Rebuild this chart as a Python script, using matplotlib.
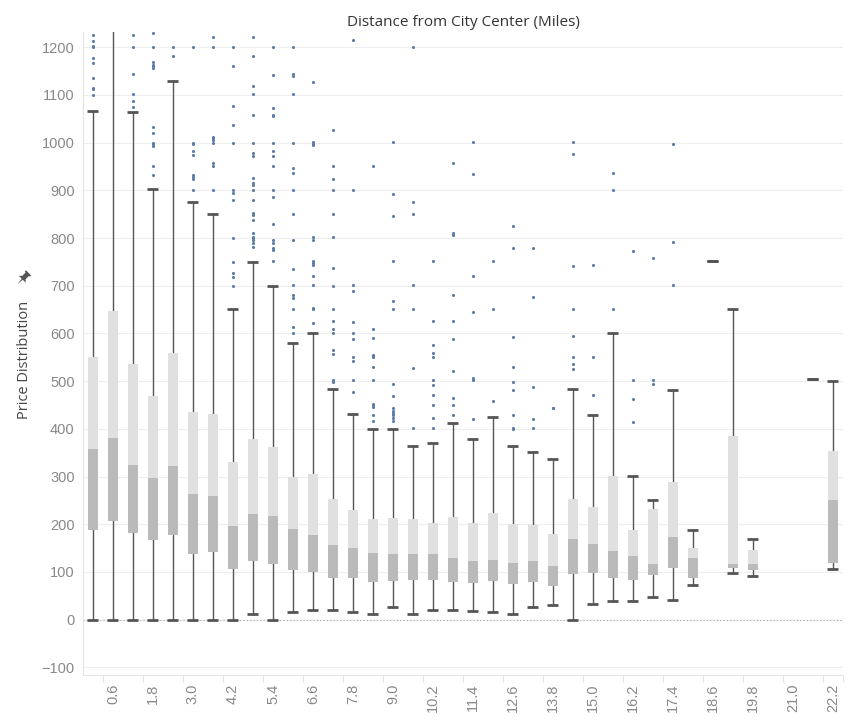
import matplotlib
matplotlib.use("Agg")
import matplotlib.pyplot as plt
from matplotlib.patches import Polygon
import matplotlib.transforms as mtransforms
import numpy as np

# Bins of distance from city center (miles), bin size 0.6
bins = [round(0.6 * i, 1) for i in range(38)]

# Box plot statistics per bin (None = no data in that bin)
lower = [0, 0, 0, 0, 0, 0, 0, 0, 12, 0, 16, 21, 21, 16, 12, 27, 12, 21, 21, 19,
         16, 12, 27, 31, 0, 33, 39, 39, 48, 42, 73, 751, 97, 91, None, None, 505, 107]
q1 = [189, 206, 181, 166, 177, 137, 141, 107, 122, 117, 105, 99, 88, 88, 80, 82, 84, 84, 80, 76,
      82, 74, 78, 70, 95, 97, 87, 84, 93, 109, 88, 751, 108, 105, None, None, 505, 118]
median = [358, 380, 324, 297, 322, 263, 259, 196, 221, 217, 190, 177, 156, 150, 139, 137, 137, 137, 129, 123,
          125, 119, 123, 112, 169, 158, 144, 133, 116, 173, 129, 751, 116, 116, None, None, 505, 251]
q3 = [550, 647, 537, 469, 560, 436, 432, 330, 378, 363, 300, 305, 252, 229, 210, 214, 210, 202, 216, 202,
      223, 200, 198, 179, 254, 237, 302, 189, 231, 288, 151, 751, 384, 145, None, None, 505, 353]
upper = [1067, 1400, 1065, 902, 1130, 876, 851, 651, 750, 700, 580, 600, 484, 432, 400, 400, 365, 371, 413, 379,
         425, 365, 352, 337, 484, 429, 601, 302, 251, 482, 188, 751, 651, 169, None, None, 505, 501]

outliers = [
    [1226, 1214, 1202, 1200, 1177, 1167, 1136, 1115, 1113, 1099],
    [],
    [1226, 1200, 1144, 1102, 1088, 1075],
    [1230, 1200, 1170, 1163, 1160, 1156, 1032, 1020, 1000, 997, 993, 951, 932],
    [1200, 1181],
    [1200, 1000, 998, 983, 974, 933, 927, 923, 900],
    [1221, 1200, 1012, 1009, 1005, 1000, 958, 951, 900],
    [1200, 1160, 1076, 1037, 1000, 900, 895, 880, 801, 750, 726, 719, 700],
    [1221, 1181, 1118, 1102, 1057, 1000, 979, 972, 926, 916, 911, 900, 880, 852, 849, 838,
     810, 803, 800, 796, 790, 781],
    [1200, 1142, 1073, 1057, 1055, 1000, 983, 972, 951, 900, 886, 830, 796, 789, 779, 775, 751],
    [1200, 1144, 1139, 1102, 1000, 946, 937, 900, 850, 796, 735, 701, 681, 674, 651, 613, 600],
    [1128, 1001, 998, 996, 803, 796, 752, 747, 744, 720, 701, 654, 651, 621],
    [1027, 951, 923, 900, 850, 802, 738, 699, 651, 626, 609, 600, 565, 556, 502, 499],
    [1215, 900, 701, 688, 623, 600, 588, 550, 542, 502, 477],
    [951, 609, 590, 555, 552, 550, 530, 502, 453, 449, 446, 430, 416],
    [1001, 892, 846, 751, 668, 651, 495, 469, 443, 438, 433, 428, 422, 417],
    [1200, 875, 850, 701, 651, 527, 401],
    [751, 626, 575, 558, 550, 502, 491, 470, 449, 422, 401],
    [957, 810, 806, 680, 626, 588, 521, 464, 451, 430],
    [1001, 935, 720, 644, 507, 502, 420],
    [751, 651, 458],
    [825, 779, 592, 530, 498, 481, 428, 401, 399],
    [779, 676, 487, 420, 401],
    [444, 443],
    [1001, 976, 741, 651, 594, 550, 535, 525],
    [743, 550, 470],
    [936, 900, 651],
    [772, 502, 462, 414],
    [758, 502, 495],
    [997, 791, 701],
    [], [], [], [], [], [], [], [],
]

tick_labels = [f"{b:.1f}" for b in bins[1::2]]

# colours
c_light = "#e0e0e0"
c_dark = "#bababa"
c_whisk = "#555555"
c_dot = "#5a7ca6"
c_text = "#888888"

fig = plt.figure(figsize=(8.66, 7.2), dpi=100)
ax = fig.add_axes([0.0958, 0.0625, 0.8776, 0.8931])

box_w = 0.3
cap_w = 0.33

for i, b in enumerate(bins):
    if lower[i] is None:
        continue
    # whisker line behind boxes
    ax.vlines(b, lower[i], upper[i], color=c_whisk, linewidth=1.0, zorder=2)
    ax.bar(b, median[i] - q1[i], bottom=q1[i], width=box_w, color=c_dark, zorder=3)
    ax.bar(b, q3[i] - median[i], bottom=median[i], width=box_w, color=c_light, zorder=3)
    ax.hlines([lower[i], upper[i]], b - cap_w / 2, b + cap_w / 2, color=c_whisk,
              linewidth=2.0, zorder=4)
    if outliers[i]:
        ax.scatter([b] * len(outliers[i]), outliers[i], s=5, color=c_dot,
                   linewidths=0, zorder=5)

# zero line
ax.axhline(0, color="#a8a8a8", linestyle=(0, (1, 2)), linewidth=0.8, zorder=1)

ax.set_xlim(-0.3, 22.5)
ax.set_ylim(-116, 1232)
ax.set_yticks(np.arange(-100, 1201, 100))
ax.yaxis.grid(True, color="#eeeeee", linewidth=0.8)
ax.set_axisbelow(True)

ax.set_xticks(bins[1::2])
ax.set_xticklabels(tick_labels, rotation=90, fontsize=10.5, color=c_text,
                   family="Liberation Sans")
ax.set_xticks([b - 0.3 for b in bins[1::2]] + [22.5], minor=True)
ax.tick_params(axis="x", which="major", length=0, pad=6)
ax.tick_params(axis="x", which="minor", length=5, color="#e4e4e4", width=0.8)
ax.tick_params(axis="y", length=0, pad=6, labelsize=10.5, labelcolor=c_text)
for t in ax.get_yticklabels():
    t.set_family("Liberation Sans")

for s in ["top", "right"]:
    ax.spines[s].set_visible(False)
ax.spines["left"].set_color("#e4e4e4")
ax.spines["bottom"].set_color("#e4e4e4")

fig.text(0.535, 0.969, "Distance from City Center (Miles)", ha="center", va="center",
         fontsize=11, color="#333333", family="Open Sans")
fig.text(0.028, 0.50, "Price Distribution", ha="center", va="center", rotation=90,
         fontsize=10.5, color="#444444", family="Open Sans")

# small pin icon next to the axis title
pin = np.array([(-3, 6), (3, 6), (3, 4.5), (2, 4.5), (2, 0.5), (4, -1.5), (0.6, -1.5),
                (0, -7), (-0.6, -1.5), (-4, -1.5), (-2, 0.5), (-2, 4.5), (-3, 4.5)]) * 1.2
pin_tr = (mtransforms.Affine2D().rotate_deg(-45).scale(1 / 100.0)
          .translate(0.235, 4.42) + fig.dpi_scale_trans)
fig.add_artist(Polygon(pin, closed=True, facecolor="#555555", edgecolor="none",
                       transform=pin_tr))

fig.savefig("out.png", dpi=100)
